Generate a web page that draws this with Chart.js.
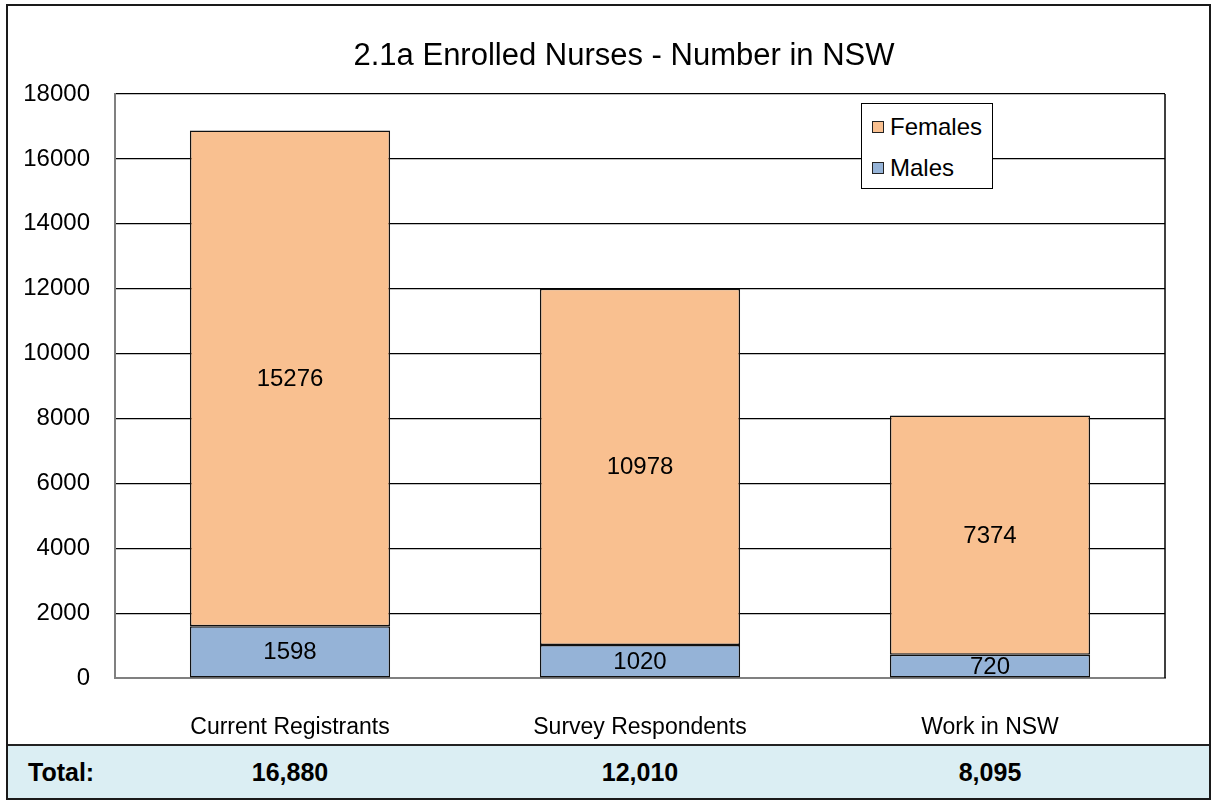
<!DOCTYPE html>
<html lang="en">
<head>
<meta charset="UTF-8">
<title>2.1a Enrolled Nurses - Number in NSW</title>
<script src="https://cdn.jsdelivr.net/npm/chart.js"></script>
<style>
    body { margin: 0; background: #fff; font-family: "Liberation Sans", Arial, sans-serif; }
    #frame {
        position: absolute; left: 6px; top: 4px; width: 1205px; height: 796px;
        box-sizing: border-box; border: 2px solid #1a1a1a; background: #fff;
    }
    #chart { position: absolute; left: 0; top: 0; }
    #title {
        position: absolute; left: 616px; top: 31px; transform: translateX(-50%);
        font-size: 31px; color: #000; white-space: nowrap;
    }
    #legend {
        position: absolute; left: 853px; top: 97px; width: 132px; height: 86px;
        box-sizing: border-box; border: 1.5px solid #000; background: #fff;
        padding: 2px 0 0 10px;
    }
    .item { height: 41px; display: flex; align-items: center; font-size: 24px; color: #000; }
    .sw { width: 10px; height: 10px; border: 1.5px solid #222; margin-right: 6px; }
    #totals {
        position: absolute; left: 0; top: 738px; width: 1201px; height: 54px;
        box-sizing: border-box; border-top: 2px solid #222; background: #dbeef3;
        font-weight: bold; font-size: 25px; color: #000;
    }
    #totals span { position: absolute; top: 12px; white-space: nowrap; }
</style>
</head>
<body>
<div id="frame">
    <canvas id="chart" width="1201" height="738"></canvas>
    <div id="title">2.1a Enrolled Nurses - Number in NSW</div>
    <div id="legend"></div>
    <div id="totals"></div>
</div>
<script>
// data
const categories = ['Current Registrants', 'Survey Respondents', 'Work in NSW'];
const males = [1598, 1020, 720];
const females = [15276, 10978, 7374];
const totals = ['16,880', '12,010', '8,095'];
const yTicks = [0, 2000, 4000, 6000, 8000, 10000, 12000, 14000, 16000, 18000];

const maleColor = '#95b3d7';
const femaleColor = '#f9c090';
const fontFamily = '"Liberation Sans", Arial, sans-serif';

// labels in the middle of each bar segment
const segmentLabels = {
    id: 'segmentLabels',
    afterDatasetsDraw(chart) {
        const ctx = chart.ctx;
        const area = chart.chartArea;
        ctx.save();
        ctx.beginPath();
        ctx.rect(area.left, area.top, area.right - area.left, area.bottom - area.top);
        ctx.clip();
        ctx.font = '24px ' + fontFamily;
        ctx.fillStyle = '#000';
        ctx.textAlign = 'center';
        ctx.textBaseline = 'middle';
        chart.data.datasets.forEach(function(ds, di) {
            chart.getDatasetMeta(di).data.forEach(function(bar, i) {
                const mid = (bar.y + bar.base) / 2;
                ctx.fillText(String(ds.data[i]), bar.x, mid + 1);
            });
        });
        ctx.restore();
    }
};

// right edge of the plot area
const plotFrame = {
    id: 'plotFrame',
    afterDraw(chart) {
        const ctx = chart.ctx;
        const a = chart.chartArea;
        ctx.save();
        ctx.strokeStyle = '#000';
        ctx.lineWidth = 1.5;
        ctx.beginPath();
        ctx.moveTo(a.right, a.top);
        ctx.lineTo(a.right, a.bottom);
        ctx.stroke();
        ctx.restore();
    }
};

const ctx = document.getElementById('chart').getContext('2d');
const chart = new Chart(ctx, {
    type: 'bar',
    data: {
        labels: categories,
        datasets: [
            { label: 'Males', data: males, backgroundColor: maleColor, borderColor: '#111', borderWidth: 1.5, borderSkipped: false },
            { label: 'Females', data: females, backgroundColor: femaleColor, borderColor: '#111', borderWidth: 1.5, borderSkipped: false }
        ]
    },
    options: {
        responsive: false,
        animation: false,
        layout: { padding: { left: 0, right: 44, top: 88, bottom: 0 } },
        categoryPercentage: 1,
        barPercentage: 0.572,
        plugins: {
            legend: { display: false },
            tooltip: { enabled: false },
            title: { display: false }
        },
        scales: {
            x: {
                stacked: true,
                grid: { display: false },
                border: { color: '#808080', width: 2 },
                ticks: { color: '#000', padding: 28, font: { size: 23, family: fontFamily } },
                afterFit(s) { s.height = 66; }
            },
            y: {
                stacked: true,
                min: 0,
                max: 18000,
                afterBuildTicks(s) { s.ticks = yTicks.map(v => ({ value: v })); },
                grid: { color: '#000', lineWidth: 1.2, drawTicks: false },
                border: { color: '#808080', width: 2 },
                ticks: {
                    color: '#000', padding: 25, font: { size: 24, family: fontFamily },
                    callback: function(v) { return String(v); }
                },
                afterFit(s) { s.width = 107; }
            }
        }
    },
    plugins: [segmentLabels, plotFrame]
});

// legend (Females on top)
const legend = document.getElementById('legend');
chart.data.datasets.slice().reverse().forEach(function(ds) {
    const row = document.createElement('div');
    row.className = 'item';
    row.innerHTML = '<div class="sw" style="background:' + ds.backgroundColor + '"></div>' + ds.label;
    legend.appendChild(row);
});

// totals row under the chart
const totalsRow = document.getElementById('totals');
const first = document.createElement('span');
first.textContent = 'Total:';
first.style.left = '20px';
totalsRow.appendChild(first);
totals.forEach(function(t, i) {
    const sp = document.createElement('span');
    sp.textContent = t;
    sp.style.left = chart.scales.x.getPixelForValue(i) + 'px';
    sp.style.transform = 'translateX(-50%)';
    totalsRow.appendChild(sp);
});
</script>
</body>
</html>
